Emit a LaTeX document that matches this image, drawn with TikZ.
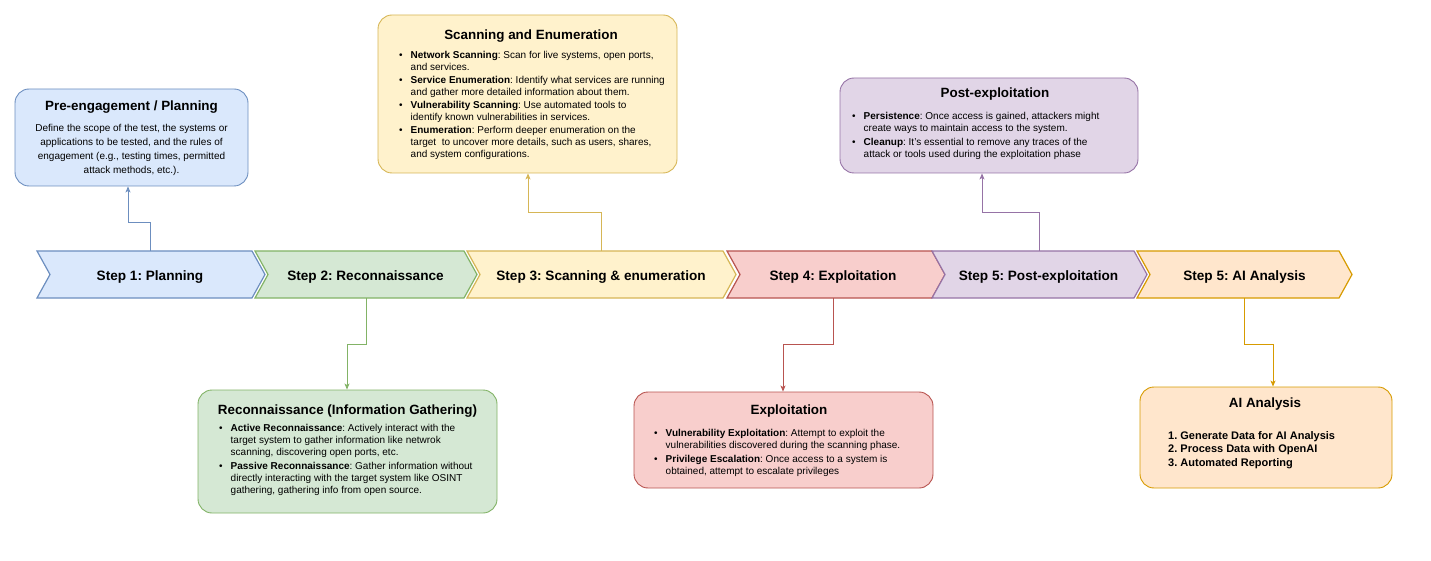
\documentclass[tikz,border=0pt]{standalone}
\usepackage{fontspec}
\setmainfont{Liberation Sans}
\usetikzlibrary{arrows.meta}
\frenchspacing
\definecolor{bfill}{HTML}{DAE8FC}\definecolor{bdraw}{HTML}{6C8EBF}
\definecolor{gfill}{HTML}{D5E8D4}\definecolor{gdraw}{HTML}{82B366}
\definecolor{yfill}{HTML}{FFF2CC}\definecolor{ydraw}{HTML}{D6B656}
\definecolor{rfill}{HTML}{F8CECC}\definecolor{rdraw}{HTML}{B85450}
\definecolor{pfill}{HTML}{E1D5E7}\definecolor{pdraw}{HTML}{9673A6}
\definecolor{ofill}{HTML}{FFE6CC}\definecolor{odraw}{HTML}{D79B00}
\newcommand\mychev[4]{\filldraw[chevs, fill=#3, draw=#4] (#1,251) -- ({#2-13},251) -- (#2,274.5) -- ({#2-13},298) -- (#1,298) -- ({#1+13},274.5) -- cycle;}
\newcommand\bl{\textbullet}
\begin{document}
\begin{tikzpicture}[x=1pt,y=-1pt,
  chevs/.style={line width=1.2pt, line join=miter},
  boxs/.style={rounded corners=14pt, line width=0.9pt, inner sep=0pt},
  stepl/.style={anchor=base, inner sep=0pt, font=\fontsize{13.6}{16}\selectfont\bfseries\frenchspacing},
  ttl/.style={anchor=base, inner sep=0pt, font=\fontsize{13.4}{16}\selectfont\bfseries\frenchspacing},
  body/.style={anchor=north west, inner sep=0pt, font=\fontsize{10}{12}\selectfont\frenchspacing},
  conn/.style={line width=0.8pt, -{Stealth[length=6pt,width=5pt,inset=1.5pt]}}]
\useasboundingbox (0,0) rectangle (1431,561);
% chevrons
\mychev{37}{265}{bfill}{bdraw}
\mychev{255}{477}{gfill}{gdraw}
\mychev{467}{736}{yfill}{ydraw}
\mychev{727}{945}{rfill}{rdraw}
\mychev{932}{1147}{pfill}{pdraw}
\mychev{1137}{1352}{ofill}{odraw}
\node[stepl] (s1) at (150,280.5) {Step 1: Planning};
\node[stepl] (s2) at (365.5,280.5) {Step 2: Reconnaissance};
\node[stepl] (s3) at (601,280.5) {Step 3: Scanning \& enumeration};
\node[stepl] (s4) at (833,280.5) {Step 4: Exploitation};
\node[stepl] (s5) at (1038.5,280.5) {Step 5: Post-exploitation};
\node[stepl] (s6) at (1244.5,280.5) {Step 5: AI Analysis};
\coordinate (p1) at (150,251);
\coordinate (p2) at (366,298);
\coordinate (p3) at (601,251);
\coordinate (p4) at (833,298);
\coordinate (p5) at (1039,251);
\coordinate (p6) at (1244,298);
% boxes
\node[boxs, fill=bfill, draw=bdraw, minimum width=233, minimum height=97] (pre) at (131.5,137.5) {};
\node[boxs, fill=yfill, draw=ydraw, minimum width=299, minimum height=158] (scan) at (527.5,94) {};
\node[boxs, fill=pfill, draw=pdraw, minimum width=298, minimum height=95] (post) at (989,125.5) {};
\node[boxs, fill=gfill, draw=gdraw, minimum width=299, minimum height=123] (recon) at (347.5,451.5) {};
\node[boxs, fill=rfill, draw=rdraw, minimum width=299, minimum height=96] (expl) at (783.5,440) {};
\node[boxs, fill=ofill, draw=odraw, minimum width=252, minimum height=101] (ai) at (1266,437.5) {};
% titles
\node[ttl] (pret) at (131.5,111) {Pre-engagement / Planning};
\node[ttl] (scant) at (531,39.8) {Scanning and Enumeration};
\node[ttl] (postt) at (995,97.8) {Post-exploitation};
\node[ttl] (recont) at (347.5,414.8) {Reconnaissance (Information Gathering)};
\node[ttl] (explt) at (789,414.8) {Exploitation};
\node[ttl] (ait) at (1265,407.8) {AI Analysis};
% bodies
\node[anchor=north, inner sep=0pt, font=\fontsize{10}{14}\selectfont\frenchspacing] (preb) at (131.5,121.7) {\begin{tabular}{@{}c@{}}Define the scope of the test, the systems or\\ applications to be tested, and the rules of\\ engagement (e.g., testing times, permitted\\ attack methods, etc.).\end{tabular}};
\node[body] (scanb) at (399,50) {\begin{tabular}{@{}l@{\hspace{8pt}}l@{}}
\bl & \textbf{Network Scanning}: Scan for live systems, open ports,\\
 & and services.\\[1pt]
\bl & \textbf{Service Enumeration}: Identify what services are running\\
 & and gather more detailed information about them.\\[1pt]
\bl & \textbf{Vulnerability Scanning}: Use automated tools to\\
 & identify known vulnerabilities in services.\\[1pt]
\bl & \textbf{Enumeration}: Perform deeper enumeration on the\\
 & target\ \ to uncover more details, such as users, shares,\\
 & and system configurations.
\end{tabular}};
\node[body] (postb) at (852,111) {\begin{tabular}{@{}l@{\hspace{8pt}}l@{}}
\bl & \textbf{Persistence}: Once access is gained, attackers might\\
 & create ways to maintain access to the system.\\[2pt]
\bl & \textbf{Cleanup}: It's essential to remove any traces of the\\
 & attack or tools used during the exploitation phase
\end{tabular}};
\node[body] (reconb) at (219,423) {\begin{tabular}{@{}l@{\hspace{8pt}}l@{}}
\bl & \textbf{Active Reconnaissance}: Actively interact with the\\
 & target system to gather information like netwrok\\
 & scanning, discovering open ports, etc.\\[2pt]
\bl & \textbf{Passive Reconnaissance}: Gather information without\\
 & directly interacting with the target system like OSINT\\
 & gathering, gathering info from open source.
\end{tabular}};
\node[body] (explb) at (654,428) {\begin{tabular}{@{}l@{\hspace{8pt}}l@{}}
\bl & \textbf{Vulnerability Exploitation}: Attempt to exploit the\\
 & vulnerabilities discovered during the scanning phase.\\[1.5pt]
\bl & \textbf{Privilege Escalation}: Once access to a system is\\
 & obtained, attempt to escalate privileges
\end{tabular}};
\node[anchor=north west, inner sep=0pt, font=\fontsize{11}{13.5}\selectfont\bfseries] (aib) at (1168,429.5) {\begin{tabular}{@{}l@{}}1. Generate Data for AI Analysis\\ 2. Process Data with OpenAI\\ 3. Automated Reporting\end{tabular}};
% connectors
\coordinate (j1) at (128,222);
\coordinate (j3) at (528,212);
\coordinate (j5) at (982,212);
\coordinate (j2) at (347,344);
\coordinate (j4) at (783,344);
\coordinate (j6) at (1273,344);
\draw[conn, draw=bdraw] (p1) |- (j1) -- (j1 |- pre.south);
\draw[conn, draw=ydraw] (p3) |- (j3) -- (j3 |- scan.south);
\draw[conn, draw=pdraw] (p5) |- (j5) -- (j5 |- post.south);
\draw[conn, draw=gdraw] (p2) |- (j2) -- (j2 |- recon.north);
\draw[conn, draw=rdraw] (p4) |- (j4) -- (j4 |- expl.north);
\draw[conn, draw=odraw] (p6) |- (j6) -- (j6 |- ai.north);
\end{tikzpicture}
\end{document}
